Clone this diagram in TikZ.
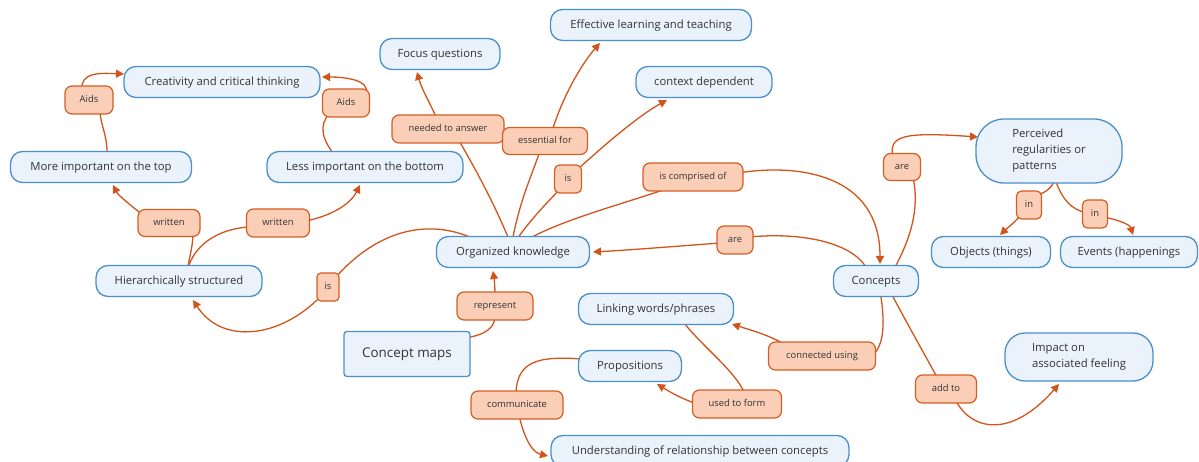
\documentclass[tikz,border=0pt]{standalone}
\usepackage{fontspec}
\setmainfont{Open Sans}
\usetikzlibrary{calc,arrows.meta}
\definecolor{cborder}{HTML}{4B8FCB}
\definecolor{cfill}{HTML}{EAF3FB}
\definecolor{lborder}{HTML}{D45D22}
\definecolor{lfill}{HTML}{FBCFB7}
\definecolor{lcol}{HTML}{D2541A}
\pgfdeclarelayer{bg}
\pgfsetlayers{bg,main}
\tikzset{
  conceptbase/.style={draw=cborder, fill=cfill, line width=1.3pt, rounded corners=12pt, inner sep=0pt,
    font=\fontsize{11.3}{16}\selectfont, text=black!80, align=center},
  concept/.style={conceptbase, text height=8.2pt, text depth=1.8pt},
  linkl/.style={draw=lborder, fill=lfill, line width=1.2pt, rounded corners=7pt, inner sep=0pt,
    font=\fontsize{9.4}{11}\selectfont, text=black!80, text height=6.8pt, text depth=1.6pt},
  ln/.style={draw=lcol, line width=1.3pt},
  arr/.style={draw=lcol, line width=1.3pt, -{Triangle[length=8pt,width=8pt]}, fill=none},
}
\begin{document}
\begin{tikzpicture}[x=1pt,y=-1pt]
\useasboundingbox (0,0) rectangle (1199,462);
\clip (0,0) rectangle (1199,462);
% concepts
\node[concept, minimum width=196pt, minimum height=31pt] (creat) at (222,82) {Creativity and critical thinking};
\node[concept, minimum width=120pt, minimum height=31pt] (focus) at (440,54) {Focus questions};
\node[concept, minimum width=201pt, minimum height=31pt] (effect) at (651,25) {Effective learning and teaching};
\node[concept, minimum width=136pt, minimum height=31pt] (context) at (704,82) {context dependent};
\node[concept, minimum width=181pt, minimum height=31pt] (more) at (101,167) {More important on the top};
\node[concept, minimum width=196pt, minimum height=31pt] (less) at (365,167) {Less important on the bottom};
\node[conceptbase, minimum width=146pt, minimum height=64pt, rounded corners=28pt, align=left] (perc) at (1049,151) {Perceived\\regularities or\\patterns};
\node[concept, minimum width=166pt, minimum height=31pt] (hier) at (179,281) {Hierarchically structured};
\node[concept, minimum width=153pt, minimum height=31pt] (org) at (513,252) {Organized knowledge};
\node[concept, minimum width=119pt, minimum height=31pt] (obj) at (991,252) {Objects (things)};
\node[concept, minimum width=137pt, minimum height=31pt] (events) at (1129,252) {Events (happenings};
\node[concept, minimum width=85pt, minimum height=31pt] (concepts) at (876,281) {Concepts};
\node[concept, minimum width=155pt, minimum height=31pt] (linking) at (656,309) {Linking words/phrases};
\node[concept, minimum width=126pt, minimum height=45pt, rounded corners=3pt, font=\fontsize{13.4}{16}\selectfont, text height=9.6pt, text depth=2.4pt] (cmaps) at (407,354) {Concept maps};
\node[concept, minimum width=103pt, minimum height=31pt] (props) at (630,366) {Propositions};
\node[conceptbase, minimum width=148pt, minimum height=48pt, rounded corners=20pt, align=left] (impact) at (1079,357) {Impact on\\associated feeling};
\node[concept, minimum width=298pt, minimum height=31pt] (under) at (700,451) {Understanding of relationship between concepts};
% link labels
\node[linkl, minimum width=48pt, minimum height=28pt] (aidsL) at (89,100) {Aids};
\node[linkl, minimum width=47pt, minimum height=28pt] (aidsR) at (346,103) {Aids};
\node[linkl, minimum width=62pt, minimum height=27pt] (writL) at (169,223) {written};
\node[linkl, minimum width=63pt, minimum height=28pt] (writR) at (278,223) {written};
\node[linkl, minimum width=22pt, minimum height=28pt, rounded corners=4pt] (isL) at (328,287) {is};
\node[linkl, minimum width=112pt, minimum height=28pt] (needed) at (448,129) {needed to answer};
\node[linkl, minimum width=85pt, minimum height=27pt] (essent) at (545,141) {essential for};
\node[linkl, minimum width=27pt, minimum height=28pt, rounded corners=5pt] (isC) at (568,179) {is};
\node[linkl, minimum width=100pt, minimum height=28pt] (compr) at (693,177) {is comprised of};
\node[linkl, minimum width=36pt, minimum height=28pt] (areM) at (735,240) {are};
\node[linkl, minimum width=37pt, minimum height=27pt] (areR) at (902,167) {are};
\node[linkl, minimum width=25pt, minimum height=28pt, rounded corners=5pt] (inL) at (1029,205) {in};
\node[linkl, minimum width=25pt, minimum height=28pt, rounded corners=5pt] (inR) at (1095,214) {in};
\node[linkl, minimum width=76pt, minimum height=28pt] (repr) at (495,306) {represent};
\node[linkl, minimum width=107pt, minimum height=28pt] (conn) at (822,356) {connected using};
\node[linkl, minimum width=89pt, minimum height=28pt] (used) at (737,404) {used to form};
\node[linkl, minimum width=92pt, minimum height=28pt] (comm) at (517,405) {communicate};
\node[linkl, minimum width=61pt, minimum height=28pt] (addto) at (946,389) {add to};
% connectors
\begin{pgfonlayer}{bg}
\draw[ln] ($(more)+(6,-10)$) .. controls (108,135) and (100,125) .. ($(aidsL)+(11,10)$);
\draw[arr] ($(aidsL)+(-7,-10)$) .. controls (80,72) and (100,73) .. ($(creat)+(-98,-8)$);
\draw[ln] ($(less)+(-29,-10)$) .. controls (322,140) and (318,125) .. ($(aidsR)+(-16,10)$);
\draw[arr] ($(aidsR)+(20,-10)$) .. controls (370,80) and (345,77) .. ($(creat)+(100,-5)$);
\draw[ln] ($(hier)+(8,-10)$) .. controls (190,255) and (193,245) .. ($(writL)+(24,10)$);
\draw[arr] ($(writL)+(-26,-8)$) .. controls (130,205) and (118,195) .. ($(more)+(12,18)$);
\draw[ln] ($(hier)+(8,-10)$) .. controls (195,240) and (225,228) .. ($(writR)+(-28,4)$);
\draw[arr] ($(writR)+(28,-2)$) .. controls (330,216) and (350,205) .. ($(less)+(-5,18)$);
\draw[ln] ($(org)+(-33,-10)$) .. controls (440,220) and (385,222) .. ($(isL)+(8,-10)$);
\draw[arr] ($(isL)+(-8,10)$) .. controls (280,338) and (222,345) .. ($(hier)+(14,19)$);
\draw[ln] ($(org)+(-3,-10)$) .. controls (495,205) and (475,168) .. ($(needed)+(10,10)$);
\draw[arr] ($(needed)+(-11,-10)$) .. controls (430,103) and (422,90) .. ($(focus)+(-23,18)$);
\draw[ln] ($(org)+(-1,-10)$) .. controls (520,200) and (530,180) .. ($(essent)+(-5,10)$);
\draw[arr] ($(essent)+(7,-10)$) .. controls (565,90) and (585,60) .. ($(effect)+(-51,18)$);
\draw[ln] ($(org)+(2,-10)$) .. controls (530,220) and (545,205) .. ($(isC)+(-8,10)$);
\draw[arr] ($(isC)+(10,-10)$) .. controls (610,140) and (640,115) .. ($(context)+(-37,18)$);
\draw[ln] ($(org)+(10,-10)$) .. controls (560,220) and (620,205) .. ($(compr)+(-21,10)$);
\draw[arr] ($(compr)+(45,-4)$) .. controls (800,163) and (880,175) .. ($(concepts)+(4,-17)$);
\draw[ln] ($(concepts)+(-8,-10)$) .. controls (855,242) and (800,232) .. ($(areM)+(15,-3)$);
\draw[arr] ($(areM)+(-15,3)$) .. controls (680,246) and (630,250) .. ($(org)+(80,0)$);
\draw[ln] ($(concepts)+(17,-10)$) .. controls (910,240) and (920,210) .. ($(areR)+(11,10)$);
\draw[arr] ($(areR)+(-9,-10)$) .. controls (888,135) and (905,132) .. ($(perc)+(-71,-14)$);
\draw[ln] ($(perc)+(6,28)$) .. controls (1052,188) and (1046,192) .. ($(inL)+(9,-10)$);
\draw[arr] ($(inL)+(-8,10)$) .. controls (1012,225) and (1005,230) .. ($(obj)+(9,-17)$);
\draw[ln] ($(perc)+(6,28)$) .. controls (1062,200) and (1072,210) .. ($(inR)+(-8,-1)$);
\draw[arr] ($(inR)+(8,3)$) .. controls (1120,220) and (1130,225) .. ($(events)+(4,-17)$);
\draw[ln] ($(cmaps)+(58,-16)$) .. controls (485,335) and (495,328) .. ($(repr)+(0,10)$);
\draw[arr] ($(repr)+(0,-10)$) .. controls (495,285) and (494,278) .. ($(org)+(-20,19)$);
\draw[ln] ($(concepts)+(4,10)$) .. controls (885,320) and (885,345) .. ($(conn)+(50,0)$);
\draw[arr] ($(conn)+(-35,-10)$) .. controls (770,335) and (750,330) .. ($(linking)+(76,15)$);
\draw[ln] ($(linking)+(25,10)$) .. controls (700,345) and (735,370) .. ($(used)+(8,-10)$);
\draw[arr] ($(used)+(-40,0)$) .. controls (680,398) and (670,392) .. ($(props)+(27,18)$);
\draw[ln] ($(props)+(-48,-7)$) .. controls (540,356) and (516,360) .. ($(comm)+(-1,-10)$);
\draw[arr] ($(comm)+(2,10)$) .. controls (522,430) and (530,452) .. ($(under)+(-152,5)$);
\draw[ln] ($(concepts)+(14,10)$) .. controls (905,320) and (925,355) .. ($(addto)+(-8,-10)$);
\draw[arr] ($(addto)+(9,10)$) .. controls (970,430) and (1010,440) .. ($(impact)+(-20,27)$);
\end{pgfonlayer}
\end{tikzpicture}
\end{document}
